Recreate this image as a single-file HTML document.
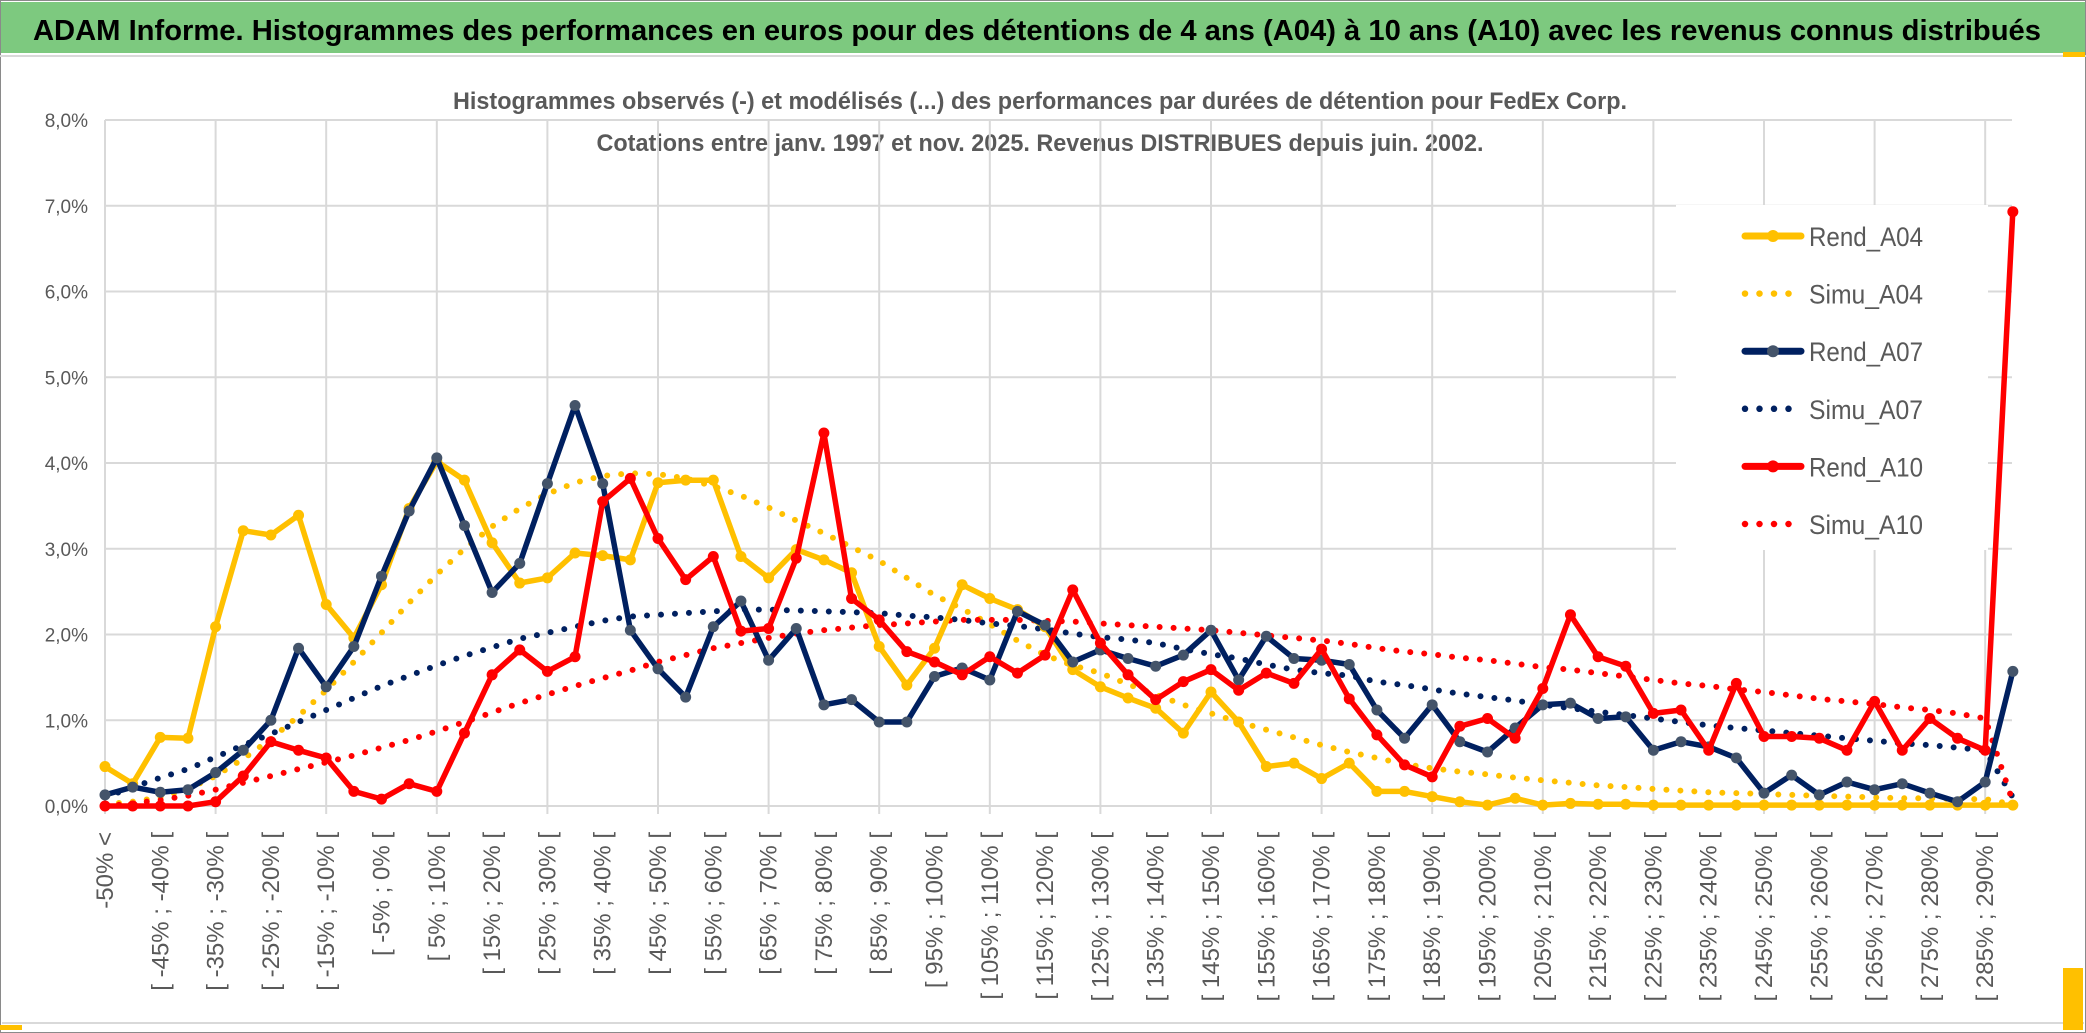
<!DOCTYPE html>
<html><head><meta charset="utf-8"><style>
html,body{margin:0;padding:0;background:#fff;}
svg{display:block;}
text{font-family:"Liberation Sans",sans-serif;}
</style></head><body>
<svg id="chart" width="2086" height="1033" viewBox="0 0 2086 1033" xmlns="http://www.w3.org/2000/svg">
<rect x="0" y="0" width="2086" height="1033" fill="#fff"/>
<rect x="0.5" y="0.5" width="2085" height="1032" fill="none" stroke="#8a8a8a" stroke-width="1"/>
<rect x="1" y="2" width="2084" height="51" fill="#7dc97f"/>
<text x="33" y="40" font-size="29" font-weight="bold" fill="#000" textLength="2008" lengthAdjust="spacingAndGlyphs">ADAM Informe. Histogrammes des performances en euros pour des détentions de 4 ans (A04) à 10 ans (A10) avec les revenus connus distribués</text>
<line x1="0" y1="56" x2="2086" y2="56" stroke="#d9d9d9" stroke-width="2"/>
<line x1="2" y1="1023" x2="2084" y2="1023" stroke="#d9d9d9" stroke-width="2"/>
<rect x="0" y="1025" width="22" height="5" fill="#ffc000"/>
<rect x="2063" y="52" width="22" height="5" fill="#ffc000"/>
<rect x="2063" y="968" width="20" height="62" fill="#ffc000"/>
<text x="1040" y="109" font-size="24" font-weight="bold" fill="#595959" text-anchor="middle" textLength="1174" lengthAdjust="spacingAndGlyphs">Histogrammes observés (-) et modélisés (...) des performances par durées de détention pour FedEx Corp.</text>
<text x="1040" y="151" font-size="24" font-weight="bold" fill="#595959" text-anchor="middle" textLength="887" lengthAdjust="spacingAndGlyphs">Cotations entre janv. 1997 et nov. 2025. Revenus DISTRIBUES depuis juin. 2002.</text>
<g id="grid"></g>
<g id="yaxis"></g>
<g id="xaxis"></g>
<g id="series"></g>
<g id="legend"></g>
</svg>
<script>
const yTicks = [0,1,2,3,4,5,6,7,8];
const rendA04 = [0.46,0.26,0.80,0.79,2.09,3.21,3.16,3.39,2.35,1.96,2.58,3.47,4.02,3.80,3.07,2.60,2.66,2.95,2.92,2.87,3.77,3.80,3.80,2.91,2.66,2.99,2.87,2.72,1.86,1.41,1.84,2.58,2.42,2.29,2.09,1.59,1.39,1.26,1.14,0.85,1.33,0.98,0.46,0.50,0.32,0.50,0.17,0.17,0.11,0.05,0.01,0.09,0.01,0.03,0.02,0.02,0.01,0.01,0.01,0.01,0.01,0.01,0.01,0.01,0.01,0.01,0.01,0.01,0.01,0.01];
const simuA04 = [0.02,0.05,0.10,0.20,0.35,0.55,0.78,1.05,1.35,1.68,2.02,2.37,2.70,3.00,3.26,3.47,3.64,3.77,3.85,3.88,3.87,3.82,3.73,3.62,3.48,3.33,3.18,3.02,2.86,2.66,2.46,2.30,2.12,1.93,1.76,1.64,1.55,1.42,1.30,1.18,1.08,0.98,0.89,0.80,0.71,0.63,0.56,0.49,0.44,0.40,0.37,0.33,0.30,0.27,0.24,0.22,0.20,0.18,0.16,0.15,0.14,0.13,0.12,0.11,0.10,0.09,0.09,0.08,0.08,0.02];
const rendA07 = [0.13,0.22,0.16,0.19,0.39,0.65,1.00,1.84,1.39,1.86,2.68,3.44,4.06,3.27,2.49,2.83,3.76,4.67,3.76,2.05,1.60,1.27,2.09,2.39,1.70,2.07,1.18,1.24,0.98,0.98,1.51,1.61,1.47,2.27,2.11,1.68,1.82,1.72,1.63,1.76,2.05,1.47,1.98,1.72,1.70,1.65,1.12,0.79,1.18,0.75,0.63,0.91,1.18,1.20,1.02,1.04,0.65,0.75,0.69,0.56,0.15,0.36,0.13,0.28,0.19,0.26,0.15,0.05,0.28,1.57];
const simuA07 = [0.10,0.22,0.33,0.43,0.57,0.71,0.84,0.98,1.12,1.26,1.40,1.52,1.64,1.75,1.85,1.95,2.02,2.09,2.16,2.21,2.23,2.25,2.27,2.29,2.29,2.28,2.27,2.26,2.25,2.22,2.20,2.17,2.13,2.10,2.06,2.01,1.97,1.94,1.90,1.83,1.77,1.72,1.65,1.59,1.55,1.52,1.45,1.41,1.36,1.31,1.27,1.23,1.18,1.14,1.10,1.06,1.02,0.98,0.94,0.91,0.88,0.85,0.82,0.79,0.76,0.73,0.71,0.68,0.65,0.10];
const rendA10 = [0,0,0,0,0.05,0.35,0.75,0.65,0.56,0.17,0.08,0.26,0.17,0.85,1.53,1.82,1.57,1.74,3.55,3.82,3.12,2.64,2.91,2.04,2.07,2.89,4.35,2.42,2.17,1.80,1.68,1.53,1.74,1.55,1.76,2.52,1.90,1.53,1.24,1.45,1.59,1.35,1.55,1.43,1.83,1.25,0.83,0.48,0.34,0.93,1.02,0.79,1.37,2.23,1.74,1.63,1.08,1.12,0.65,1.43,0.81,0.81,0.79,0.65,1.22,0.65,1.02,0.79,0.65,6.93];
const simuA10 = [0.0,0.03,0.07,0.12,0.19,0.27,0.35,0.43,0.51,0.59,0.68,0.77,0.87,0.98,1.09,1.20,1.30,1.40,1.49,1.58,1.68,1.76,1.84,1.90,1.96,2.01,2.05,2.08,2.11,2.13,2.15,2.17,2.17,2.17,2.16,2.15,2.13,2.11,2.09,2.07,2.05,2.02,1.99,1.96,1.93,1.89,1.84,1.80,1.77,1.73,1.70,1.66,1.62,1.59,1.55,1.51,1.47,1.43,1.40,1.36,1.33,1.29,1.25,1.22,1.19,1.15,1.12,1.08,1.02,0.05];
const categories = ["-50% <"];
for (let k = 1; k < 69; k++) { const a = -55 + 5*k; categories.push("[ " + a + "% ; " + (a+5) + "% ["); }
categories.push("> 290%");
const legendNames = ["Rend_A04","Simu_A04","Rend_A07","Simu_A07","Rend_A10","Simu_A10"];

const NS = "http://www.w3.org/2000/svg";
const X0 = 105, XSTEP = 27.65, Y0 = 806, YUNIT = 85.75, XR = 2012;
function xs(i){ return X0 + XSTEP*i; }
function ys(v){ return Y0 - YUNIT*v; }
function mk(tag, attrs, parent){ const e = document.createElementNS(NS, tag); for (const k in attrs) e.setAttribute(k, attrs[k]); parent.appendChild(e); return e; }

const grid = document.getElementById('grid');
yTicks.forEach(t => {
  const l = mk('line', {x1:X0, x2:XR, y1:ys(t), y2:ys(t), stroke:'#d9d9d9', 'stroke-width':2}, grid);
  
  
});
for (let i = 0; i < categories.length; i += 4) {
  const l = mk('line', {x1:xs(i), x2:xs(i), y1:ys(8), y2:Y0+8, stroke:'#d9d9d9', 'stroke-width':2}, grid);
  
  
}
const yaxis = document.getElementById('yaxis');
yTicks.forEach(t => {
  const tx = mk('text', {x:88, y:ys(t)+7, 'font-size':19, fill:'#595959', 'text-anchor':'end'}, yaxis);
  tx.textContent = t.toFixed(1).replace('.', ',') + '%';
  
  
});
const xaxis = document.getElementById('xaxis');
for (let i = 0; i < categories.length; i += 2) {
  const x = xs(i) + 8, y = 832;
  const tx = mk('text', {x:x, y:y, 'font-size':24, fill:'#595959', 'text-anchor':'end', transform:'rotate(-90 '+x+' '+y+')'}, xaxis);
  tx.textContent = categories[i];
  
  
}
const series = document.getElementById('series');
function pts(arr){ return arr.map((v,i)=>xs(i).toFixed(1)+','+ys(v).toFixed(1)).join(' '); }
function dotted(arr, color, name){
  const p = mk('polyline', {points:pts(arr), fill:'none', stroke:color, 'stroke-width':6, 'stroke-linecap':'round', 'stroke-dasharray':'0 14'}, series);
  
  
}
function solid(arr, color, mcolor, name){
  const g = mk('g', {}, series);
  
  
  mk('polyline', {points:pts(arr), fill:'none', stroke:color, 'stroke-width':5.5, 'stroke-linejoin':'round'}, g);
  arr.forEach((v,i) => {
    const c = mk('circle', {cx:xs(i), cy:ys(v), r:5.5, fill:mcolor}, g);
    
    
  });
}
dotted(simuA04, '#ffc000', 'simu-a04-line');
dotted(simuA07, '#002060', 'simu-a07-line');
dotted(simuA10, '#ff0000', 'simu-a10-line');
solid(rendA04, '#ffc000', '#ffc000', 'rend-a04-line');
solid(rendA07, '#002060', '#44546a', 'rend-a07-line');
solid(rendA10, '#ff0000', '#ff0000', 'rend-a10-line');

const legend = document.getElementById('legend');
const lb = mk('rect', {x:1676, y:205, width:312, height:345, fill:'#fff'}, legend);


const lcolors = ['#ffc000','#ffc000','#002060','#002060','#ff0000','#ff0000'];
const lmark = ['#ffc000','#ffc000','#44546a','#44546a','#ff0000','#ff0000'];
legendNames.forEach((n,i) => {
  const y = 236 + 57.6*i;
  const g = mk('g', {}, legend);
  
  
  if (i % 2 === 0) {
    mk('line', {x1:1745, x2:1801, y1:y, y2:y, stroke:lcolors[i], 'stroke-width':7, 'stroke-linecap':'round'}, g);
    mk('circle', {cx:1773, cy:y, r:6, fill:lmark[i]}, g);
  } else {
    mk('line', {x1:1745, x2:1801, y1:y, y2:y, stroke:lcolors[i], 'stroke-width':6.5, 'stroke-linecap':'round', 'stroke-dasharray':'0 14.5'}, g);
  }
  const t = mk('text', {x:1809, y:y+10, 'font-size':27, fill:'#595959', textLength:114, lengthAdjust:'spacingAndGlyphs'}, g);
  t.textContent = n;
});
</script>
</body></html>
